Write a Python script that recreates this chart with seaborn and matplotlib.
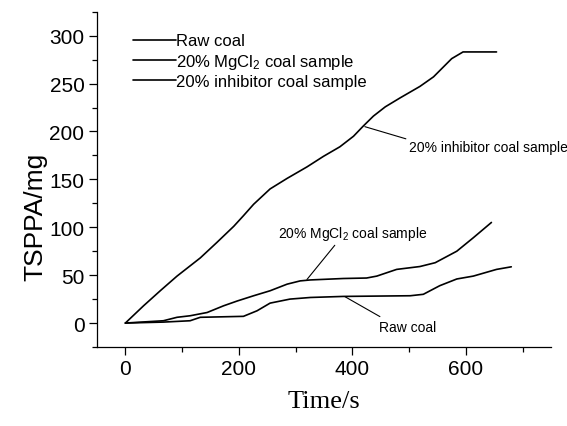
import matplotlib
matplotlib.use("Agg")
import matplotlib.pyplot as plt
import seaborn as sns
import pandas as pd
import numpy as np
from matplotlib.ticker import MultipleLocator

# ---- data ----
raw_t = [0, 67, 114, 132, 208, 232, 255, 290, 326, 384, 502, 525, 554, 584, 613, 654, 680]
raw_v = [0, 1, 2.4, 6, 7, 12.8, 20.8, 25, 26.7, 27.8, 28.5, 30, 39, 46, 49, 56, 58.7]

mg_t = [0, 67, 91, 114, 144, 173, 197, 226, 255, 285, 308, 326, 384, 425, 443, 478, 519, 546, 584, 613, 645]
mg_v = [0, 2.4, 6, 7.6, 11, 18, 23, 28.5, 33.7, 40.6, 44, 45, 46.5, 47, 49, 56, 59, 63, 75, 89, 105]

inh_t = [0, 32, 62, 91, 132, 161, 191, 208, 226, 255, 285, 320, 349, 378, 402, 419, 437, 458, 484, 519, 543, 575, 595, 654]
inh_v = [0, 18, 34, 49, 68, 84, 101, 112, 124, 140, 151, 163, 174, 184, 195, 205.5, 216, 225.7, 235, 247, 257, 276, 283, 283]

labels = ["Raw coal", "20% MgCl$_2$ coal sample", "20% inhibitor coal sample"]

frames = []
for lab, t, v in zip(labels, [raw_t, mg_t, inh_t], [raw_v, mg_v, inh_v]):
    frames.append(pd.DataFrame({"Time": t, "TSPPA": v, "Sample": lab}))
df = pd.concat(frames, ignore_index=True)

sns.set_theme(style="ticks")
plt.rcParams["font.family"] = ["Liberation Sans", "DejaVu Sans"]
plt.rcParams["mathtext.default"] = "regular"
plt.rcParams["text.color"] = "black"
plt.rcParams["axes.labelcolor"] = "black"
plt.rcParams["xtick.color"] = "black"
plt.rcParams["ytick.color"] = "black"

fig = plt.figure(figsize=(5.67, 4.27), dpi=100)
ax = fig.add_axes([97 / 567, 1 - 348 / 427, (551 - 97) / 567, (348 - 12.7) / 427])

sns.lineplot(data=df, x="Time", y="TSPPA", hue="Sample", hue_order=labels,
             palette=["black", "black", "black"], linewidth=1.2, ax=ax,
             sort=False, estimator=None)

ax.set_xlim(-50, 750)
ax.set_ylim(-25, 325)
ax.xaxis.set_major_locator(MultipleLocator(200))
ax.xaxis.set_minor_locator(MultipleLocator(100))
ax.yaxis.set_major_locator(MultipleLocator(50))
ax.yaxis.set_minor_locator(MultipleLocator(25))
ax.set_yticks([0, 50, 100, 150, 200, 250, 300])
ax.tick_params(which="major", direction="out", length=6, width=0.9, labelsize=15, color="black", labelcolor="black", pad=3)
ax.tick_params(which="minor", direction="out", length=3.5, width=0.9, color="black")
for s in ["top", "right"]:
    ax.spines[s].set_visible(False)
for s in ["left", "bottom"]:
    ax.spines[s].set_linewidth(0.9)
    ax.spines[s].set_color("black")

ax.set_xlabel("Time/s", family=["Liberation Serif"], fontsize=19, labelpad=8, color="black")
ax.set_ylabel("TSPPA/mg", fontsize=19, color="black")
ax.yaxis.set_label_coords(-0.11, 0.391)

leg = ax.legend(loc="upper left", bbox_to_anchor=(0.079, 0.935), frameon=False,
                fontsize=12, handlelength=2.6, handletextpad=0.0, labelspacing=0.2,
                borderpad=0, borderaxespad=0)
for h in leg.get_lines():
    h.set_linewidth(1.2)
for t in leg.get_texts():
    t.set_color("black")

afont = dict(fontsize=10, family=["Liberation Sans"], color="black")
ax.annotate("20% inhibitor coal sample", xy=(422, 205), xytext=(640, 184),
            ha="center", va="center", arrowprops=dict(arrowstyle="-", lw=0.8, color="black",
                                                       shrinkA=0, shrinkB=0,
                                                       relpos=(0, 1)), **afont)
ax.annotate("20% MgCl$_2$ coal sample", xy=(320, 45.5), xytext=(400, 94),
            ha="center", va="center", arrowprops=dict(arrowstyle="-", lw=0.8, color="black",
                                                      shrinkA=0, shrinkB=0,
                                                      relpos=(0.4, 0)), **afont)
ax.annotate("Raw coal", xy=(387, 27.5), xytext=(497, -4),
            ha="center", va="center", arrowprops=dict(arrowstyle="-", lw=0.8, color="black",
                                                      shrinkA=0, shrinkB=0,
                                                      relpos=(0.12, 1)), **afont)

fig.savefig("out.png", dpi=100)
